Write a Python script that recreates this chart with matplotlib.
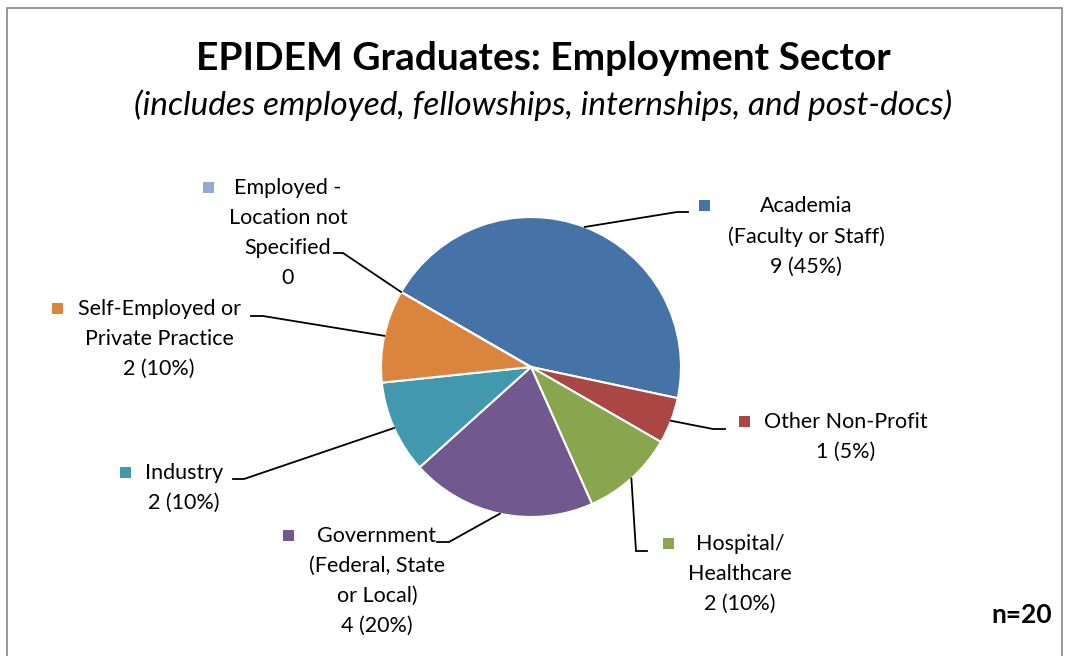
import numpy as np
import matplotlib
matplotlib.use("Agg")
import matplotlib.pyplot as plt
from matplotlib.patches import Rectangle

plt.rcParams['font.family'] = ['Lato', 'DejaVu Sans']

# --- data ---
sectors = ["Academia\n(Faculty or Staff)", "Other Non-Profit", "Hospital/\nHealthcare",
           "Government\n(Federal, State\nor Local)", "Industry",
           "Self-Employed or\nPrivate Practice", "Employed -\nLocation not\nSpecified"]
counts = [9, 1, 2, 4, 2, 2, 0]
colors = ["#4572A7", "#AA4643", "#89A54E", "#71588F", "#4198AF", "#DB843D", "#93A9CF"]
total = sum(counts)

# label layout in pixel coords (x center of text, y of first line, key x, elbow x/y, end x)
label_cx = [806, 846, 740, 377, 184, 159, 288]
label_y = [205, 421, 543, 535, 472, 308, 187]
key_x = [704, 744, 668, 288, 125, 57, 208]
elbow = [(677, 212), (713, 429), (636, 551), (449, 542), (244, 479), (263, 316), (343, 253)]
end_x = [688, 725, 647, 437, 233, 251, 334]

W, H = 1070, 656
fig = plt.figure(figsize=(W / 100, H / 100), dpi=100)
ax = fig.add_axes([0, 0, 1, 1])

def py(y):
    return H - y

cx, cy, r = 531, py(367), 150
wedges, _ = ax.pie(counts, colors=colors, startangle=150, counterclock=False,
                   center=(cx, cy), radius=r, frame=True,
                   wedgeprops=dict(edgecolor='white', linewidth=1.5))
ax.set_xlim(0, W)
ax.set_ylim(0, H)
ax.set_aspect('equal')
ax.axis('off')

# outer frame
ax.add_patch(Rectangle((7, py(660)), 1055, 652, fill=False, edgecolor='#888888', lw=1.2))

for i, w in enumerate(wedges):
    ang = np.deg2rad((w.theta1 + w.theta2) / 2)
    x0 = cx + r * np.cos(ang)
    y0 = cy + r * np.sin(ang)
    ex, ey = elbow[i]
    ax.plot([x0, ex, end_x[i]], [y0, py(ey), py(ey)], color='black', lw=1.3,
            solid_joinstyle='miter')
    if counts[i] > 0:
        val = f"{counts[i]} ({counts[i] / total:.0%})"
    else:
        val = "0"
    text = sectors[i] + "\n" + val
    ax.text(label_cx[i], py(label_y[i]) + 9, text, ha='center', va='top',
            fontsize=15.5, linespacing=1.62, color='black')
    ax.add_patch(Rectangle((key_x[i] - 5.5, py(label_y[i]) - 5.5), 11, 11,
                           facecolor=colors[i], edgecolor='none'))

ax.text(543, py(58), "EPIDEM Graduates: Employment Sector", ha='center', va='center',
        fontsize=28, fontweight='bold')
ax.text(543, py(105), "(includes employed, fellowships, internships, and post-docs)",
        ha='center', va='center', fontsize=24, style='italic')
ax.text(1022, py(615), "n=20", ha='center', va='center', fontsize=19, fontweight='bold')

fig.savefig("out.png", dpi=100)
